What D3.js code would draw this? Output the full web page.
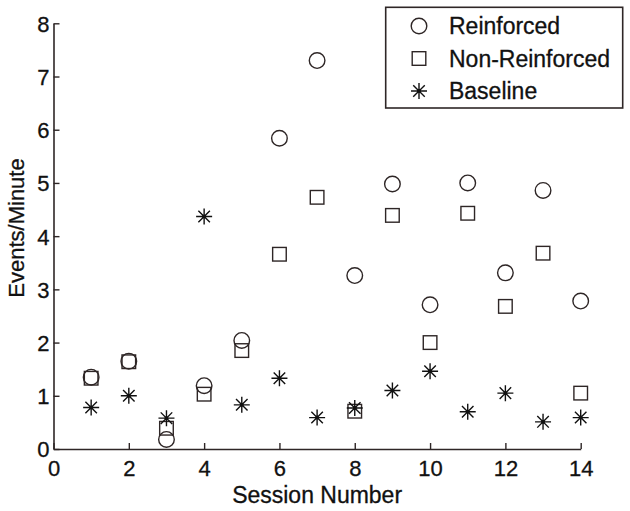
<!DOCTYPE html>
<html><head><meta charset="utf-8">
<script src="https://cdn.jsdelivr.net/npm/d3@7"></script>
<style>body{margin:0;background:#fff}</style>
</head><body>
<svg id="c" width="630" height="511"></svg>
<script>
const sessions = [1,2,3,4,5,6,7,8,9,10,11,12,13,14];
const reinforced    = [1.35,1.65,0.18,1.19,2.04,5.84,7.30,3.26,4.98,2.71,5.00,3.31,4.86,2.78];
const nonReinforced = [1.33,1.64,0.39,1.03,1.85,3.66,4.73,0.71,4.39,2.00,4.43,2.68,3.68,1.05];
const baseline      = [0.78,1.00,0.58,4.37,0.83,1.33,0.59,0.77,1.10,1.46,0.70,1.05,0.51,0.59];
const xTicks = [0,2,4,6,8,10,12,14];
const yTicks = [0,1,2,3,4,5,6,7,8];
const legendLabels = ["Reinforced","Non-Reinforced","Baseline"];

const ink = "#2e2626";
const txt = "#111";
const svg = d3.select("#c");
const font = "Arial, 'Liberation Sans', sans-serif";
const x = d3.scaleLinear().domain([0,14]).range([53.5,580.7]);
const y = d3.scaleLinear().domain([0,8]).range([449,23.3]);

function styleText(sel,size){
  sel.attr("fill",txt).attr("stroke",txt).attr("stroke-width",0.3)
     .style("font-family",font).style("font-size",size+"px");
}

// axes
const gx = svg.append("g").attr("transform",`translate(0,${y(0)})`)
  .call(d3.axisBottom(x).tickValues(xTicks).tickSizeInner(-6).tickSizeOuter(0).tickPadding(10));
const gy = svg.append("g").attr("transform",`translate(${x(0)},0)`)
  .call(d3.axisLeft(y).tickValues(yTicks).tickSizeInner(-6).tickSizeOuter(0).tickPadding(4));
[gx,gy].forEach(g=>{
  g.select(".domain").attr("stroke",ink).attr("stroke-width",1.6);
  g.selectAll(".tick line").attr("stroke",ink).attr("stroke-width",1.4);
  styleText(g.selectAll(".tick text"),22);
});
gx.selectAll(".tick text").attr("dy","0.77em");
gy.selectAll(".tick text").attr("dy","0.36em");

// axis titles
styleText(svg.append("text").attr("transform",`translate(${(x(0)+x(14))/2},503) scale(1,1.08)`)
  .attr("text-anchor","middle").text("Session Number"),23);
styleText(svg.append("text").attr("transform",`translate(24,228) rotate(-90)`).attr("text-anchor","middle")
  .text("Events/Minute"),22);

// marker drawers
function circle(g,cx,cy){ g.append("circle").attr("cx",cx).attr("cy",cy).attr("r",7.8)
  .attr("fill","none").attr("stroke",ink).attr("stroke-width",1.4); }
function square(g,cx,cy){ g.append("rect").attr("x",cx-6.8).attr("y",cy-6.8).attr("width",13.6).attr("height",13.6)
  .attr("fill","none").attr("stroke",ink).attr("stroke-width",1.4); }
function star(g,cx,cy){
  const r=8, d=r*0.72, p=d3.path();
  p.moveTo(cx-r,cy);p.lineTo(cx+r,cy);p.moveTo(cx,cy-r);p.lineTo(cx,cy+r);
  p.moveTo(cx-d,cy-d);p.lineTo(cx+d,cy+d);p.moveTo(cx-d,cy+d);p.lineTo(cx+d,cy-d);
  g.append("path").attr("d",p.toString()).attr("stroke",txt).attr("stroke-width",1.4).attr("fill","none");
  g.append("circle").attr("cx",cx).attr("cy",cy).attr("r",1.8).attr("fill",txt);
}
const series = [[reinforced,circle],[nonReinforced,square],[baseline,star]];
const gm = svg.append("g");
series.forEach(([vals,fn])=>{
  sessions.forEach((s,i)=>fn(gm,x(s),y(vals[i])));
});

// legend
const lg = svg.append("g");
lg.append("rect").attr("x",385.7).attr("y",7.3).attr("width",237).attr("height",100.7)
  .attr("fill","#fff").attr("stroke",ink).attr("stroke-width",1.6);
legendLabels.forEach((lab,i)=>{
  const cy = 26 + i*32.5;
  series[i][1](lg,419,cy);
  styleText(lg.append("text").attr("transform",`translate(449,${cy+8.3}) scale(1,1.08)`).text(lab),23);
});
</script>
</body></html>
